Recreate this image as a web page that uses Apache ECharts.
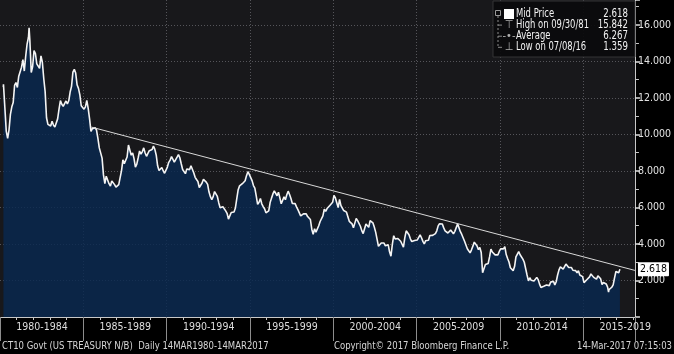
<!DOCTYPE html>
<html>
<head>
<meta charset="utf-8">
<script src="https://cdn.jsdelivr.net/npm/echarts@6/dist/echarts.min.js"></script>
<style>
html,body{margin:0;padding:0;background:#000;}
#chart{width:674px;height:354px;}
</style>
</head>
<body>
<div id="chart"></div>
<script>
// CT10 mid price, monthly levels, Jan..Dec (null = before the series starts)
var firstYear = 1980;
var monthlyYield = [
	[null, null, 12.75, 11.47, 10.18, 9.78, 10.25, 11.10, 11.51, 11.75, 12.68, 12.84],
	[12.57, 13.19, 13.12, 13.68, 14.10, 13.47, 14.28, 14.94, 15.32, 15.15, 13.39, 13.72],
	[14.59, 14.43, 13.86, 13.87, 13.62, 14.30, 13.95, 13.06, 12.34, 10.91, 10.55, 10.54],
	[10.46, 10.72, 10.51, 10.40, 10.38, 10.85, 11.38, 11.85, 11.65, 11.54, 11.69, 11.83],
	[11.67, 11.84, 12.32, 12.63, 13.41, 13.56, 13.36, 12.72, 12.52, 12.16, 11.57, 11.50],
	[11.38, 11.51, 11.86, 11.43, 10.85, 10.16, 10.31, 10.33, 10.37, 10.24, 9.78, 9.26],
	[9.19, 8.70, 7.78, 7.30, 7.71, 7.80, 7.30, 7.17, 7.45, 7.43, 7.25, 7.11],
	[7.08, 7.25, 7.25, 8.02, 8.61, 8.40, 8.45, 8.76, 9.42, 9.52, 8.86, 8.99],
	[8.67, 8.21, 8.37, 8.72, 9.09, 8.92, 9.06, 9.26, 8.98, 8.80, 8.96, 9.11],
	[9.09, 9.17, 9.36, 9.18, 8.86, 8.28, 8.02, 8.11, 8.19, 8.01, 7.87, 7.84],
	[8.21, 8.47, 8.59, 8.79, 8.76, 8.48, 8.47, 8.75, 8.89, 8.72, 8.39, 8.08],
	[8.09, 7.85, 8.11, 8.04, 8.07, 8.28, 8.27, 7.90, 7.65, 7.53, 7.42, 7.09],
	[7.03, 7.34, 7.54, 7.48, 7.39, 7.26, 6.84, 6.59, 6.42, 6.59, 6.87, 6.77],
	[6.60, 6.26, 5.98, 5.97, 6.04, 5.96, 5.81, 5.68, 5.36, 5.33, 5.72, 5.77],
	[5.75, 5.97, 6.48, 6.97, 7.18, 7.10, 7.30, 7.24, 7.46, 7.74, 7.96, 7.81],
	[7.78, 7.47, 7.20, 7.06, 6.63, 6.17, 6.28, 6.49, 6.20, 6.04, 5.93, 5.71],
	[5.65, 5.81, 6.27, 6.51, 6.74, 6.91, 6.87, 6.64, 6.83, 6.53, 6.20, 6.30],
	[6.58, 6.42, 6.69, 6.89, 6.71, 6.49, 6.22, 6.30, 6.21, 6.03, 5.88, 5.81],
	[5.54, 5.57, 5.65, 5.64, 5.65, 5.50, 5.46, 5.34, 4.81, 4.53, 4.83, 4.65],
	[4.72, 5.00, 5.23, 5.18, 5.54, 5.90, 5.79, 5.94, 5.92, 6.11, 6.03, 6.28],
	[6.66, 6.52, 6.26, 5.99, 6.44, 6.10, 6.05, 5.83, 5.80, 5.74, 5.72, 5.24],
	[5.16, 5.10, 4.89, 5.14, 5.39, 5.28, 5.24, 4.97, 4.73, 4.57, 4.65, 5.09],
	[5.04, 4.91, 5.28, 5.21, 5.16, 4.93, 4.65, 4.26, 3.87, 3.94, 4.05, 4.03],
	[4.05, 3.90, 3.81, 3.96, 3.57, 3.33, 3.98, 4.45, 4.27, 4.29, 4.30, 4.27],
	[4.15, 4.08, 3.83, 4.35, 4.72, 4.73, 4.50, 4.28, 4.13, 4.10, 4.19, 4.23],
	[4.22, 4.17, 4.50, 4.34, 4.14, 4.00, 4.18, 4.26, 4.20, 4.46, 4.54, 4.47],
	[4.42, 4.57, 4.72, 4.99, 5.11, 5.11, 5.09, 4.88, 4.72, 4.73, 4.60, 4.56],
	[4.76, 4.72, 4.56, 4.69, 4.75, 5.10, 5.00, 4.67, 4.52, 4.53, 4.15, 4.10],
	[3.74, 3.74, 3.51, 3.68, 3.88, 4.10, 4.01, 3.89, 3.69, 3.81, 3.53, 2.42],
	[2.52, 2.87, 2.82, 2.93, 3.29, 3.72, 3.56, 3.59, 3.40, 3.39, 3.40, 3.59],
	[3.73, 3.69, 3.73, 3.85, 3.42, 3.20, 3.01, 2.70, 2.65, 2.54, 2.76, 3.29],
	[3.39, 3.58, 3.41, 3.46, 3.17, 3.00, 3.00, 2.30, 1.98, 2.15, 2.01, 1.98],
	[1.97, 1.97, 2.17, 2.05, 1.80, 1.62, 1.53, 1.68, 1.72, 1.75, 1.65, 1.72],
	[1.91, 1.98, 1.96, 1.76, 1.93, 2.30, 2.58, 2.74, 2.81, 2.62, 2.72, 2.90],
	[2.86, 2.71, 2.72, 2.71, 2.56, 2.60, 2.54, 2.42, 2.53, 2.30, 2.33, 2.21],
	[1.88, 1.98, 2.04, 1.94, 2.20, 2.36, 2.32, 2.17, 2.17, 2.07, 2.26, 2.24],
	[2.09, 1.78, 1.89, 1.81, 1.81, 1.64, 1.50, 1.56, 1.63, 1.76, 2.14, 2.49],
	[2.43, 2.42]
];
// single days: first print, high, low, last print  [year fraction, yield]
var dailyPoints = [[1980.20, 12.60], [1981.745, 15.842], [2016.516, 1.359], [2017.197, 2.618]];
// trend line drawn over the highs
var trendPoints = [[1985.48, 10.40], [2018.10, 2.55]];

var legendNames = ['Mid Price', 'High on 09/30/81', 'Average', 'Low on 07/08/16'];
var legendValues = ['2.618', '15.842', '6.267', '1.359'];
var legendIcons = ['', '\u22A4', '-\u2022-', '\u22A5'];
var footerTexts = ['CT10 Govt (US TREASURY N/B)  Daily 14MAR1980-14MAR2017', 'Copyright\u00A9 2017 Bloomberg Finance L.P.', '14-Mar-2017 07:15:03'];

var font = "'Liberation Sans Narrow','DejaVu Sans Condensed',sans-serif";

var seriesData = [];
for (var i = 0; i < monthlyYield.length; i++) {
	for (var j = 0; j < monthlyYield[i].length; j++) {
		if (monthlyYield[i][j] === null) continue;
		seriesData.push([firstYear + i + (j + 0.5) / 12, monthlyYield[i][j]]);
	}
}
seriesData = seriesData.concat(dailyPoints);
seriesData.sort(function (a, b) { return a[0] - b[0]; });
var lastValue = dailyPoints[dailyPoints.length - 1][1];

//图例框
var graphics = [{
	type: 'rect', z: 100,
	shape: {x: 493, y: 1, width: 142, height: 56},
	style: {fill: 'rgba(11,11,13,0.94)', stroke: '#343436', lineWidth: 1}
}, {
	type: 'rect', z: 101,
	shape: {x: 495.5, y: 10.5, width: 5, height: 5},
	style: {fill: 'none', stroke: '#9a9a9a', lineWidth: 1}
}, {
	type: 'line', z: 101,
	shape: {x1: 498, y1: 16, x2: 498, y2: 47},
	style: {stroke: '#8a8a8a', lineWidth: 1, lineDash: [2, 2]}
}, {
	type: 'rect', z: 101,
	shape: {x: 504, y: 9, width: 10, height: 10},
	style: {fill: '#ffffff'}
}];
for (var k = 0; k < legendNames.length; k++) {
	var yy = 14 + k * 11.1;
	if (k > 0) {
		graphics.push({
			type: 'line', z: 101,
			shape: {x1: 498, y1: yy, x2: 502, y2: yy},
			style: {stroke: '#8a8a8a', lineWidth: 1}
		});
		graphics.push({
			type: 'text', z: 101, x: 509, y: yy,
			style: {text: legendIcons[k], fill: '#b0b0b0', font: '11px ' + font, align: 'center', verticalAlign: 'middle'}
		});
	}
	graphics.push({
		type: 'text', z: 101, x: 516, y: yy, scaleX: 0.78,
		style: {text: legendNames[k], fill: '#f2f2f2', font: '12px ' + font, verticalAlign: 'middle'}
	});
	graphics.push({
		type: 'text', z: 101, x: 628, y: yy, scaleX: 0.8,
		style: {text: legendValues[k], fill: '#f2f2f2', font: '12px ' + font, align: 'right', verticalAlign: 'middle'}
	});
}
//底部说明
graphics.push({type: 'text', x: 2, y: 346, scaleX: 0.86, style: {text: footerTexts[0], fill: '#d6d6d6', font: '11px ' + font, verticalAlign: 'middle'}});
graphics.push({type: 'text', x: 334, y: 346, scaleX: 0.86, style: {text: footerTexts[1], fill: '#d6d6d6', font: '11px ' + font, verticalAlign: 'middle'}});
graphics.push({type: 'text', x: 672, y: 346, scaleX: 0.86, style: {text: footerTexts[2], fill: '#d6d6d6', font: '11px ' + font, align: 'right', verticalAlign: 'middle'}});

var gridLine = {show: true, showMinLine: false, showMaxLine: false, lineStyle: {color: '#55555a', width: 1, type: [1, 2]}};

var option = {
	backgroundColor: '#000',
	animation: false,
	grid: {left: 0, right: 37, top: 0, bottom: 37, show: true, backgroundColor: '#18181b', borderWidth: 0},
	xAxis: {
		type: 'value', min: 1980, max: 2018.1, interval: 5,
		axisLine: {lineStyle: {color: '#c8c8c8', width: 1}},
		axisTick: {show: true, length: 24, lineStyle: {color: '#8c8c8c'}},
		minorTick: {show: true, splitNumber: 5, length: 3, lineStyle: {color: '#c8c8c8'}},
		axisLabel: {
			color: '#dedede', fontFamily: font, fontSize: 10.5, margin: 5,
			padding: [0, 0, 0, 84], showMinLabel: true, showMaxLabel: false,
			formatter: function (v) { return Math.floor(v) + '-' + (Math.floor(v) + 4); }
		},
		splitLine: gridLine
	},
	yAxis: {
		type: 'value', position: 'right', min: 0, max: 17.36, interval: 2,
		axisLine: {show: true, lineStyle: {color: '#c8c8c8', width: 1}},
		axisTick: {show: true, length: 5, lineStyle: {color: '#e0e0e0', width: 1.5}},
		minorTick: {show: true, splitNumber: 2, length: 4, lineStyle: {color: '#c8c8c8'}},
		axisLabel: {
			color: '#e2e2e2', fontFamily: font, fontSize: 10.5, margin: 3,
			showMinLabel: false, showMaxLabel: false,
			formatter: function (v) { return v.toFixed(3); }
		},
		splitLine: gridLine
	},
	series: [{
		type: 'line', name: 'Mid Price',
		data: seriesData,
		symbol: 'none',
		lineStyle: {color: '#f4f4f4', width: 1.6},
		areaStyle: {color: 'rgb(9,40,80)', opacity: 0.82},
		markLine: {
			silent: true, symbol: 'none',
			lineStyle: {color: 'rgba(0,0,0,0)', width: 0},
			label: {
				position: 'end', distance: 3, color: '#000', backgroundColor: '#ffffff',
				padding: [2, 2, 1, 2], fontFamily: font, fontSize: 10.5, borderRadius: 1,
				formatter: function () { return lastValue.toFixed(3); }
			},
			data: [{yAxis: lastValue}]
		},
		z: 3
	}, {
		type: 'line', name: 'Trend',
		data: trendPoints,
		symbol: 'none',
		lineStyle: {color: '#d8d8d8', width: 1},
		z: 4
	}],
	graphic: graphics
};

var chart = echarts.init(document.getElementById('chart'));
chart.setOption(option);
</script>
</body>
</html>
